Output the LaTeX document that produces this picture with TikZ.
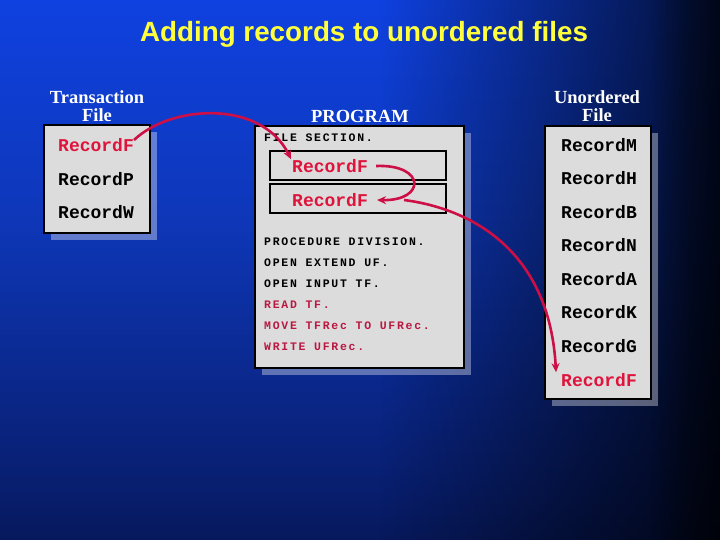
\documentclass[tikz,border=0pt]{standalone}
\usepackage{fontspec}
\setmainfont{Liberation Serif}
\newfontfamily\titlefont{Liberation Sans}
\newfontfamily\recfont{Liberation Mono}
\newfontfamily\codefont[LetterSpace=15]{Liberation Mono}
\usetikzlibrary{fadings,arrows.meta}
\definecolor{recred}{RGB}{222,20,60}
\definecolor{codered}{RGB}{185,25,65}
\definecolor{arrred}{RGB}{205,15,70}
\definecolor{boxgray}{RGB}{220,220,220}
\definecolor{titleyellow}{RGB}{255,255,60}
\pgfdeclareverticalshading{bgshade}{100bp}{color(0bp)=(black); color(12bp)=({rgb,255:red,3;green,10;blue,40}); color(30bp)=({rgb,255:red,8;green,30;blue,110}); color(55bp)=({rgb,255:red,14;green,55;blue,185}); color(80bp)=({rgb,255:red,15;green,68;blue,235}); color(100bp)=({rgb,255:red,15;green,75;blue,255})}
\tikzfading[name=fadeR, left color=transparent!100, right color=transparent!0]
\tikzset{
  panel/.style={draw=black, line width=2pt, fill=boxgray},
  shadowbox/.style={fill=white, fill opacity=0.35},
  inner/.style={draw=black, line width=2pt},
  label/.style={text=white, font=\fontsize{18.5}{18.5}\selectfont\bfseries, align=center},
  rec/.style={anchor=west, inner sep=0pt, font=\recfont\fontsize{18}{18}\selectfont\bfseries},
  code/.style={anchor=west, inner sep=0pt, font=\codefont\fontsize{11.5}{12}\selectfont\bfseries},
  arr/.style={draw=arrred, line width=2.6pt, -{Stealth[length=9pt,width=8pt]}}
}
\begin{document}
\begin{tikzpicture}[x=1pt,y=-1pt]
\useasboundingbox (0,0) rectangle (720,540);
\fill[shading=bgshade] (-5,-5) rectangle (725,545);
\fill[black, path fading=fadeR, fill opacity=0.7] (380,-5) rectangle (690,545);
\fill[black, fill opacity=0.7] (690,-5) rectangle (725,545);
\fill[black, path fading=fadeR, fill opacity=0.8] (650,-5) rectangle (740,545);

% title
\node (title) [text=titleyellow, font=\titlefont\fontsize{27.8}{29}\selectfont\bfseries] at (364,34) {Adding records to unordered files};

% labels
\node (tlab) [label] at (97,106) {Transaction\\File};
\node (plab) [label] at (360,116) {PROGRAM};
\node (ulab) [label] at (597,106) {Unordered\\File};

% shadows
\fill[shadowbox] (51,132) rectangle (157,240);
\fill[shadowbox] (262,133) rectangle (471,375);
\fill[shadowbox] (552,133) rectangle (658,406);

% panels
\path[panel] (44,125) rectangle (150,233) node[pos=0.5, inner sep=0] (tbox) {};
\path[panel] (255,126) rectangle (464,368) node[pos=0.5, inner sep=0] (pbox) {};
\path[panel] (545,126) rectangle (651,399) node[pos=0.5, inner sep=0] (ubox) {};

% inner boxes
\draw[inner] (270,151) rectangle (446,180);
\draw[inner] (270,184) rectangle (446,213);

% transaction records
\node (tF) [rec, text=recred] at (58,145) {RecordF};
\node (tP) [rec] at (58,179) {RecordP};
\node (tW) [rec] at (58,212) {RecordW};

% program
\node (fs) [code] at (264,138) {FILE SECTION.};
\node (pF1) [rec, text=recred] at (292,166) {RecordF};
\node (pF2) [rec, text=recred] at (292,200) {RecordF};
\node (c1) [code] at (264,242) {PROCEDURE DIVISION.};
\node (c2) [code] at (264,263) {OPEN EXTEND UF.};
\node (c3) [code] at (264,284) {OPEN INPUT TF.};
\node (c4) [code, text=codered] at (264,305) {READ TF.};
\node (c5) [code, text=codered] at (264,326) {MOVE TFRec TO UFRec.};
\node (c6) [code, text=codered] at (264,347) {WRITE UFRec.};

% unordered records
\node (uM) [rec] at (561,145) {RecordM};
\node (uH) [rec] at (561,178) {RecordH};
\node (uB) [rec] at (561,212) {RecordB};
\node (uN) [rec] at (561,245) {RecordN};
\node (uA) [rec] at (561,279) {RecordA};
\node (uK) [rec] at (561,312) {RecordK};
\node (uG) [rec] at (561,346) {RecordG};
\node (uF) [rec, text=recred] at (561,380) {RecordF};

% arrows
\draw[arr] ([shift={(0,-5)}]tF.east) .. controls (172,104) and (262,100) .. ([shift={(-1,0)}]pF1.north west);
\draw[arr] ([xshift=8pt]pF1.east) .. controls (426,164) and (426,201) .. ([xshift=9pt]pF2.east);
\draw[arr] ([xshift=36pt]pF2.east) .. controls (480,210) and (550,258) .. ([shift={(-5,-1)}]uF.north west);
\end{tikzpicture}
\end{document}
